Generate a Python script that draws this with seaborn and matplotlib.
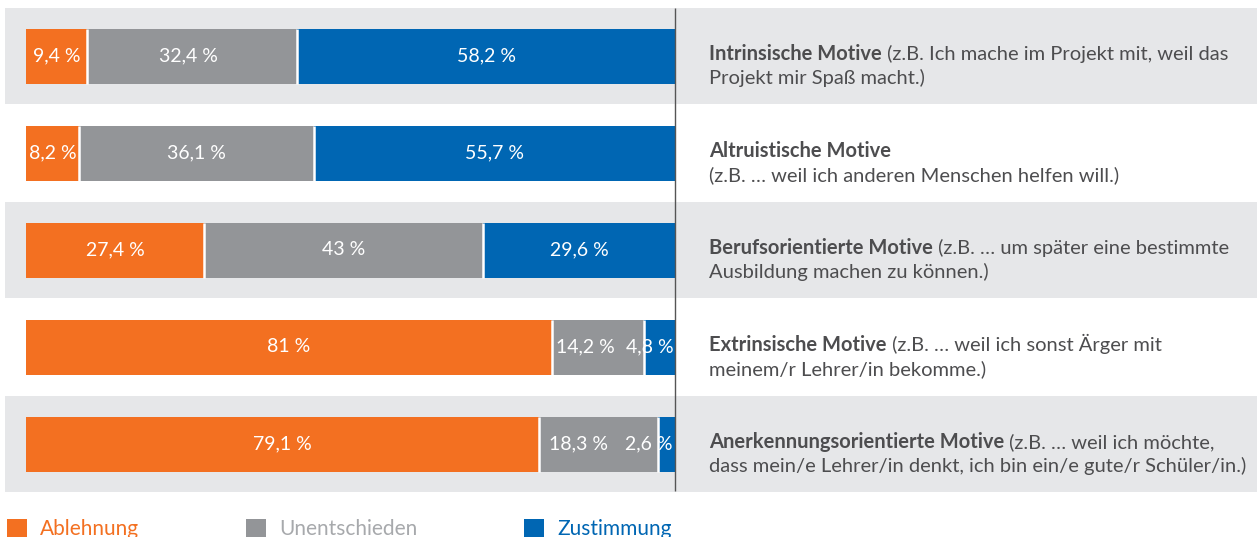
import matplotlib
matplotlib.use("Agg")
import matplotlib.pyplot as plt
import seaborn as sns
import pandas as pd
from matplotlib.patches import Patch

# ---------------- data ----------------
categories = ["Intrinsische Motive", "Altruistische Motive", "Berufsorientierte Motive",
              "Extrinsische Motive", "Anerkennungsorientierte Motive"]
ablehnung = [9.4, 8.2, 27.4, 81.0, 79.1]
unentschieden = [32.4, 36.1, 43.0, 14.2, 18.3]
zustimmung = [58.2, 55.7, 29.6, 4.8, 2.6]
label_ablehnung = ["9,4 %", "8,2 %", "27,4 %", "81 %", "79,1 %"]
label_unentschieden = ["32,4 %", "36,1 %", "43 %", "14,2 %", "18,3 %"]
label_zustimmung = ["58,2 %", "55,7 %", "29,6 %", "4,8 %", "2,6 %"]
desc_line1 = ["(z.B. Ich mache im Projekt mit, weil das", "", "(z.B. … um später eine bestimmte",
              "(z.B. … weil ich sonst Ärger mit", "(z.B. … weil ich möchte,"]
desc_line2 = ["Projekt mir Spaß macht.)", "(z.B. … weil ich anderen Menschen helfen will.)",
              "Ausbildung machen zu können.)", "meinem/r Lehrer/in bekomme.)",
              "dass mein/e Lehrer/in denkt, ich bin ein/e gute/r Schüler/in.)"]
series_names = ["Ablehnung", "Unentschieden", "Zustimmung"]

# label nudges (style only, in percentage points)
nudge_unent = [-0.5, 0, 0, -1.9, -3.1]
nudge_zust = [0, 0, 0, -1.5, -2.8]

# ---------------- style ----------------
ORANGE = "#F37021"
GRAY = "#939598"
BLUE = "#0066B3"
BAND = "#E6E7E9"
TEXT = "#4D4D4F"
LEG_GRAY = "#A7A9AC"

sns.set_style("white")
plt.rcParams["font.family"] = ["Lato", "DejaVu Sans"]

W, H = 1257, 537
fig = plt.figure(figsize=(W / 100, H / 100), dpi=100)
ax = fig.add_axes([0, 0, 1, 1])

PX_X = 6.49   # pixels per percentage point
PX_Y = 97.0   # pixels per row
X0 = 26       # pixel of 0 %
Y0 = 56       # pixel of first row centre
bar_h = 55 / PX_Y

df = pd.DataFrame({"cat": categories, "a": ablehnung, "u": unentschieden, "z": zustimmung})
df["au"] = df["a"] + df["u"]
df["auz"] = df["au"] + df["z"]

for col, c in [("auz", BLUE), ("au", GRAY), ("a", ORANGE)]:
    sns.barplot(data=df, y="cat", x=col, color=c, saturation=1, width=bar_h,
                errorbar=None, orient="h", linewidth=0, ax=ax, zorder=2)

# alternating bands
for i in range(0, len(categories), 2):
    ax.axhspan(i - 0.49, i + 0.49, xmin=5 / W, xmax=1, color=BAND, zorder=0, lw=0)

# white separators between segments
for i in range(len(categories)):
    for b in (df["a"][i], df["au"][i]):
        ax.vlines(b, i - bar_h / 2, i + bar_h / 2, color="white", lw=1.8, zorder=3)

# value labels
lab_dy = 5 / PX_Y
lab_fs = 14
for i in range(len(categories)):
    a, u, z = ablehnung[i], unentschieden[i], zustimmung[i]
    ax.text(a / 2, i + lab_dy, label_ablehnung[i], ha="center", va="baseline",
            color="white", fontsize=lab_fs, zorder=4)
    ax.text(a + u / 2 + nudge_unent[i], i + lab_dy, label_unentschieden[i], ha="center",
            va="baseline", color="white", fontsize=lab_fs, zorder=4)
    ax.text(a + u + z / 2 + nudge_zust[i], i + lab_dy, label_zustimmung[i], ha="center",
            va="baseline", color="white", fontsize=lab_fs, zorder=4)

# vertical divider
ax.vlines(100, (8 - Y0) / PX_Y, (491 - Y0) / PX_Y, color="#555555", lw=1.0, zorder=5)

# descriptions at right
x_txt = (709 - X0) / PX_X
fs = 14.5
for i, cat in enumerate(categories):
    yb = i + 4 / PX_Y
    t = ax.text(x_txt, yb, cat, ha="left", va="baseline", fontsize=fs,
                fontweight="bold", color=TEXT)
    if desc_line1[i]:
        ax.annotate(" " + desc_line1[i], xy=(1, yb), xycoords=(t, "data"),
                    ha="left", va="baseline", fontsize=fs, color=TEXT)
    ax.text(x_txt, yb + 24 / PX_Y, desc_line2[i], ha="left", va="baseline",
            fontsize=fs, color=TEXT)

ax.set_xlim(-X0 / PX_X, (W - X0) / PX_X)
ax.set_ylim((H - Y0) / PX_Y, -Y0 / PX_Y)
ax.axis("off")

# legend
lfs = 15
k = lfs * 100 / 72
handles = [Patch(facecolor=c, edgecolor="none") for c in (ORANGE, GRAY, BLUE)]
fig.legend(handles, series_names, loc="upper left", bbox_to_anchor=(7 / W, 1 - 519 / H),
           ncol=3, frameon=False, fontsize=lfs, handlelength=20 / k,
           handleheight=20 / k, handletextpad=13 / k,
           columnspacing=107 / k, borderpad=0, borderaxespad=0,
           labelcolor=[ORANGE, LEG_GRAY, BLUE])

fig.savefig("out.png", dpi=100)
